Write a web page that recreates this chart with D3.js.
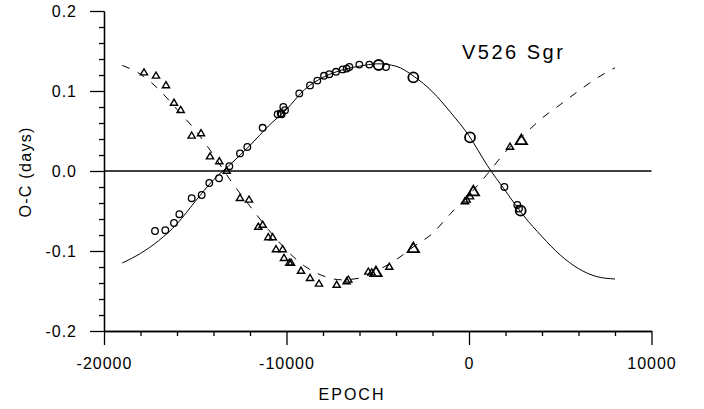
<!DOCTYPE html>
<html><head><meta charset="utf-8">
<script src="https://cdn.jsdelivr.net/npm/d3@7/dist/d3.min.js"></script>
<style>
html,body{margin:0;padding:0;background:#fff;}
svg{display:block;font-family:"Liberation Sans",Arial,sans-serif;}
</style></head>
<body>
<script>
// ---- data ----
const title = "V526 Sgr";
const xLabel = "EPOCH";
const yLabel = "O-C (days)";
const xTicks = [-20000, -10000, 0, 10000];
const xTickLabels = ["-20000", "-10000", "0", "10000"];
const yTicks = [-0.2, -0.1, 0.0, 0.1, 0.2];
const yTickLabels = ["-0.2", "-0.1", "0.0", "0.1", "0.2"];

// primary minima (circles)
const primEpoch = [-17205,-16640,-16164,-15870,-15195,-14648,-14230,-13699,-13134,-12548,-12146,-11305,-10484,-10320,-10174,-10082,-10265,-9300,-8712,-8310,-7945,-7653,-7288,-6922,-6703,-6557,-6010,-5463,-4950,-4548,-3050,55,1937,2648,2740,2831];
const primOC    = [-0.075,-0.074,-0.065,-0.054,-0.034,-0.030,-0.015,-0.009,0.006,0.022,0.030,0.054,0.071,0.072,0.080,0.076,0.071,0.097,0.107,0.113,0.119,0.121,0.124,0.127,0.128,0.130,0.133,0.133,0.1325,0.130,0.117,0.042,-0.020,-0.0425,-0.047,-0.0496];
const primBig   = [0,0,0,0,0,0,0,0,0,0,0,0,0,0,0,0,0,0,0,0,0,0,0,0,0,0,0,0,1,0,1,1,0,0,0,1];

// secondary minima (triangles)
const secEpoch = [-17808,-17150,-16603,-16164,-15799,-15196,-14685,-14192,-13681,-13276,-12548,-12055,-11545,-11305,-10997,-10759,-10575,-10210,-10137,-9845,-9753,-9205,-8712,-8219,-7250,-6703,-6612,-5516,-5333,-5096,-4367,-3050,-219,-128,55,237,2247,2868];
const secOC    = [0.123,0.119,0.107,0.085,0.076,0.044,0.047,0.018,0.012,0.000,-0.034,-0.036,-0.070,-0.0675,-0.083,-0.083,-0.098,-0.098,-0.109,-0.115,-0.115,-0.125,-0.134,-0.141,-0.1425,-0.138,-0.136,-0.126,-0.127,-0.127,-0.120,-0.097,-0.038,-0.036,-0.032,-0.026,0.030,0.038];
const secBig   = [0,0,0,0,0,0,0,0,0,0,0,0,0,0,0,0,0,0,0,0,0,0,0,0,0,0,0,0,0,1,0,1,0,0,0,1,0,1];

// fitted curves
const fitEpoch = [-19000,-18000,-17000,-16000,-15000,-14000,-13000,-12000,-11000,-10000,-9000,-8000,-7000,-6000,-5000,-4000,-3000,-2000,-1000,0,1000,2000,3000,4000,5000,6000,7000,8000];
const fitPrim  = [-0.115,-0.103,-0.087,-0.066,-0.038,-0.011,0.010,0.032,0.056,0.077,0.102,0.117,0.126,0.131,0.134,0.131,0.118,0.099,0.073,0.044,0.007,-0.025,-0.056,-0.082,-0.105,-0.122,-0.132,-0.135];
const fitSec   = [0.132,0.121,0.102,0.077,0.051,0.020,-0.014,-0.044,-0.073,-0.099,-0.119,-0.131,-0.136,-0.134,-0.124,-0.111,-0.094,-0.078,-0.053,-0.030,-0.004,0.024,0.045,0.066,0.083,0.100,0.116,0.129];

// ---- drawing ----
const W = 704, H = 409;
const svg = d3.select("body").append("svg").attr("width", W).attr("height", H);

const x = d3.scaleLinear().domain([-20000, 10000]).range([104, 651.5]);
const y = d3.scaleLinear().domain([-0.2, 0.2]).range([331, 11]);

const fontSize = 16;

// zero line
svg.append("line")
  .attr("x1", x(-20000)).attr("x2", x(10000))
  .attr("y1", y(0)).attr("y2", y(0))
  .attr("stroke", "#000").attr("stroke-width", 1.3);

// minor ticks
const xMinor = d3.range(-20000, 10001, 2000).filter(v => v % 10000 !== 0);
const yMinor = d3.range(-20, 21, 2).map(v => v / 100).filter(v => Math.abs(Math.round(v * 100)) % 10 !== 0);

const gx = svg.append("g").attr("transform", `translate(0,${y(-0.2)})`);
gx.call(d3.axisBottom(x).tickValues(xMinor).tickSize(5).tickSizeOuter(0).tickFormat(""));
gx.append("g").call(d3.axisBottom(x).tickValues(xTicks).tickSize(14).tickSizeOuter(0).tickPadding(13)
  .tickFormat((d, i) => xTickLabels[i]));

const gy = svg.append("g").attr("transform", `translate(${x(-20000)},0)`);
gy.call(d3.axisLeft(y).tickValues(yMinor).tickSize(5).tickSizeOuter(0).tickFormat(""));
gy.append("g").call(d3.axisLeft(y).tickValues(yTicks).tickSize(14).tickSizeOuter(0).tickPadding(13)
  .tickFormat((d, i) => yTickLabels[i]));

svg.selectAll(".domain").attr("stroke", "#000").attr("stroke-width", 1.3);
svg.selectAll(".tick line").attr("stroke", "#000").attr("stroke-width", 1.3);
svg.selectAll(".tick text").attr("font-size", fontSize).attr("font-family", "Liberation Sans, Arial, sans-serif")
  .attr("fill", "#000").style("letter-spacing", "1px");

// curves
const line = d3.line().x(d => x(d[0])).y(d => y(d[1])).curve(d3.curveMonotoneX);
svg.append("path").datum(fitEpoch.map((e, i) => [e, fitPrim[i]]))
  .attr("d", line).attr("fill", "none").attr("stroke", "#000").attr("stroke-width", 1);
svg.append("path").datum(fitEpoch.map((e, i) => [e, fitSec[i]]))
  .attr("d", line).attr("fill", "none").attr("stroke", "#000").attr("stroke-width", 1)
  .attr("stroke-dasharray", "8,9");

// circles
svg.append("g").selectAll("circle").data(primEpoch.map((e, i) => [e, primOC[i], primBig[i]]))
  .join("circle")
  .attr("cx", d => x(d[0])).attr("cy", d => y(d[1]))
  .attr("r", d => d[2] ? 5 : 3.3)
  .attr("fill", "none").attr("stroke", "#000").attr("stroke-width", d => d[2] ? 1.8 : 1.3);

// triangles
const tri = s => `M0,${-s}L${s * 0.95},${s * 0.6}L${-s * 0.95},${s * 0.6}Z`;
svg.append("g").selectAll("path").data(secEpoch.map((e, i) => [e, secOC[i], secBig[i]]))
  .join("path")
  .attr("transform", d => `translate(${x(d[0])},${y(d[1])})`)
  .attr("d", d => tri(d[2] ? 6 : 3.8))
  .attr("fill", "none").attr("stroke", "#000").attr("stroke-width", d => d[2] ? 1.8 : 1.4);

// labels
svg.append("text").attr("x", 462).attr("y", 59).attr("font-size", 20)
  .style("letter-spacing", "2.5px").text(title);
svg.append("text").attr("x", 352).attr("y", 400).attr("text-anchor", "middle")
  .attr("font-size", fontSize).style("letter-spacing", "2px").text(xLabel);
svg.append("text").attr("transform", "translate(31,172) rotate(-90)").attr("text-anchor", "middle")
  .attr("font-size", fontSize).style("letter-spacing", "1.3px").text(yLabel);
</script>
</body></html>
